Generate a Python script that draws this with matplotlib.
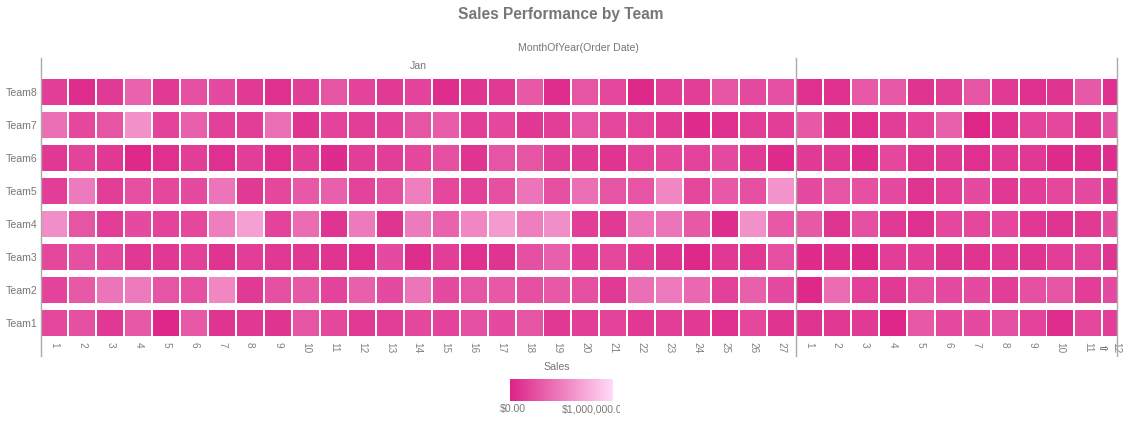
import numpy as np
import matplotlib
matplotlib.use("Agg")
import matplotlib.pyplot as plt
from matplotlib.colors import LinearSegmentedColormap, Normalize
from matplotlib.lines import Line2D
from matplotlib.transforms import Bbox

plt.rcParams['font.family'] = ['Liberation Sans', 'DejaVu Sans']

teams = ["Team1", "Team2", "Team3", "Team4", "Team5", "Team6", "Team7", "Team8"]
jan_days = [str(d) for d in range(1, 28)]
feb_days = [str(d) for d in range(1, 13)]
day_labels = jan_days + feb_days

# Sales values (dollars), Jan 1..27 then next month 1..12
team1 = [200e3, 250e3, 120e3, 300e3, 30e3, 300e3, 100e3, 120e3, 100e3, 270e3, 200e3, 130e3, 150e3,
         200e3, 180e3, 250e3, 220e3, 270e3, 120e3, 150e3, 180e3, 120e3, 150e3, 130e3, 80e3, 200e3, 100e3,
         100e3, 120e3, 130e3, 30e3, 300e3, 220e3, 220e3, 250e3, 180e3, 60e3, 200e3, 150e3]
team2 = [180e3, 300e3, 450e3, 480e3, 280e3, 250e3, 550e3, 130e3, 250e3, 300e3, 180e3, 330e3, 220e3,
         450e3, 220e3, 280e3, 300e3, 250e3, 300e3, 250e3, 130e3, 420e3, 480e3, 380e3, 170e3, 330e3, 220e3,
         40e3, 400e3, 170e3, 130e3, 250e3, 220e3, 220e3, 150e3, 250e3, 270e3, 150e3, 220e3]
team3 = [200e3, 250e3, 200e3, 120e3, 120e3, 170e3, 100e3, 150e3, 120e3, 120e3, 100e3, 80e3, 220e3,
         60e3, 150e3, 80e3, 100e3, 250e3, 330e3, 150e3, 200e3, 150e3, 100e3, 40e3, 120e3, 120e3, 250e3,
         50e3, 70e3, 40e3, 150e3, 150e3, 100e3, 100e3, 120e3, 100e3, 150e3, 180e3, 100e3]
team4 = [580e3, 270e3, 150e3, 220e3, 180e3, 200e3, 500e3, 680e3, 180e3, 400e3, 100e3, 480e3, 100e3,
         480e3, 350e3, 550e3, 650e3, 500e3, 580e3, 150e3, 130e3, 450e3, 450e3, 300e3, 60e3, 600e3, 300e3,
         300e3, 100e3, 250e3, 130e3, 80e3, 200e3, 200e3, 200e3, 120e3, 100e3, 130e3, 220e3]
team5 = [150e3, 480e3, 150e3, 250e3, 200e3, 220e3, 450e3, 130e3, 200e3, 300e3, 330e3, 180e3, 250e3,
         500e3, 200e3, 170e3, 250e3, 450e3, 250e3, 420e3, 270e3, 270e3, 550e3, 200e3, 300e3, 250e3, 620e3,
         220e3, 280e3, 250e3, 220e3, 100e3, 170e3, 220e3, 120e3, 150e3, 200e3, 220e3, 130e3]
team6 = [120e3, 180e3, 120e3, 40e3, 80e3, 150e3, 80e3, 150e3, 80e3, 150e3, 50e3, 150e3, 150e3,
         200e3, 250e3, 100e3, 280e3, 270e3, 150e3, 130e3, 100e3, 180e3, 200e3, 180e3, 220e3, 130e3, 50e3,
         130e3, 120e3, 60e3, 200e3, 100e3, 120e3, 80e3, 120e3, 120e3, 50e3, 60e3, 60e3]
team7 = [420e3, 200e3, 270e3, 600e3, 180e3, 330e3, 170e3, 150e3, 420e3, 100e3, 180e3, 150e3, 170e3,
         270e3, 320e3, 150e3, 200e3, 120e3, 150e3, 280e3, 200e3, 180e3, 130e3, 50e3, 80e3, 150e3, 150e3,
         300e3, 100e3, 80e3, 150e3, 180e3, 330e3, 20e3, 80e3, 180e3, 200e3, 120e3, 250e3]
team8 = [150e3, 60e3, 130e3, 350e3, 130e3, 250e3, 220e3, 130e3, 80e3, 150e3, 270e3, 180e3, 130e3,
         180e3, 60e3, 100e3, 130e3, 300e3, 60e3, 270e3, 200e3, 40e3, 150e3, 150e3, 270e3, 220e3, 250e3,
         80e3, 80e3, 300e3, 300e3, 100e3, 150e3, 270e3, 130e3, 80e3, 100e3, 300e3, 80e3]
rows = [team1, team2, team3, team4, team5, team6, team7, team8]

vmin, vmax = 0.0, 1_000_000.0
cmap = LinearSegmentedColormap.from_list("sales", ["#DD2286", "#FFDAF6"])
norm = Normalize(vmin=vmin, vmax=vmax)

W, H = 1128, 428
fig = plt.figure(figsize=(W / 100, H / 100), dpi=100)

def fx(px):
    return px / W

def fy(py):
    return 1 - py / H

ax_left, ax_right, ax_top, ax_bot = 40.5, 1117.0, 75.5, 339.5
ax = fig.add_axes([fx(ax_left), fy(ax_bot), fx(ax_right - ax_left), (ax_bot - ax_top) / H])

ncol = len(day_labels)
x = np.arange(ncol)
for i, vals in enumerate(rows):
    ax.bar(x, height=0.79, bottom=i - 0.395, width=0.93,
           color=cmap(norm(np.array(vals))), linewidth=0)

pitch = (795.0 - ax_left) / 27.0
ax.set_xlim(-0.5, -0.5 + (ax_right - ax_left) / pitch)
ax.set_ylim(-0.5, len(teams) - 0.5)
for s in ax.spines.values():
    s.set_visible(False)
ax.set_xticks(x)
ax.set_xticklabels(day_labels, rotation=-90, fontsize=7.2, color="#808080")
ax.set_yticks(range(len(teams)))
ax.set_yticklabels(teams, fontsize=7.6, color="#777777")
ax.tick_params(axis="x", length=0, pad=1.5)
ax.tick_params(axis="y", length=0, pad=2.5)

# separator lines
line_col = "#AAAAAA"
for px in [40.5, 795.5, 1117.0]:
    fig.add_artist(Line2D([fx(px), fx(px)], [fy(58), fy(356)], color=line_col, lw=1.0))

# titles / headers
fig.text(fx(561), fy(15), "Sales Performance by Team", ha="center", va="center",
         fontsize=11.2, fontweight="bold", color="#777777")
fig.text(fx(578.5), fy(48), "MonthOfYear(Order Date)", ha="center", va="center",
         fontsize=7.6, color="#777777")
fig.text(fx(418), fy(66), "Jan", ha="center", va="center", fontsize=7.6, color="#777777")

# scroll arrow icon
fig.text(fx(1104), fy(350), "⇨", ha="center", va="center", fontsize=7.5,
         color="#333333", family=["DejaVu Sans"])

# legend
fig.text(fx(557), fy(367), "Sales", ha="center", va="center", fontsize=7.6, color="#777777")
cax = fig.add_axes([fx(510), fy(401), fx(103), 22 / H])
sm = plt.cm.ScalarMappable(norm=norm, cmap=cmap)
cb = fig.colorbar(sm, cax=cax, orientation="horizontal")
cb.outline.set_visible(False)
cax.set_xticks([])
fig.text(fx(500), fy(409), "$0.00", ha="left", va="center", fontsize=7.6, color="#777777")
t = fig.text(fx(562), fy(409), "$1,000,000.00", ha="left", va="center", fontsize=7.6, color="#777777")
t.set_clip_box(Bbox.from_extents(0, 0, 620, H))
t.set_clip_on(True)

fig.savefig("out.png", dpi=100, facecolor="white")
